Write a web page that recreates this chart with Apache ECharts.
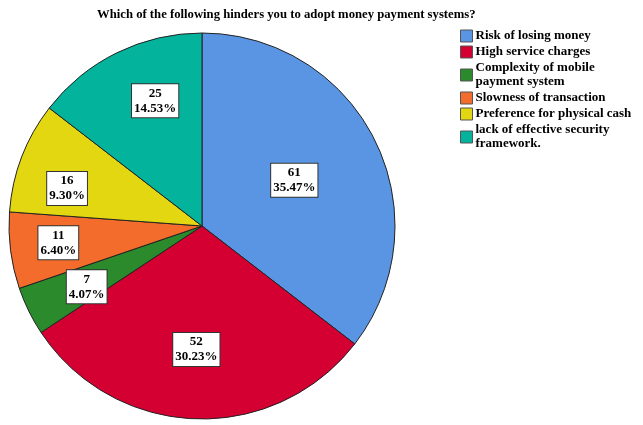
<!DOCTYPE html>
<html>
<head>
<meta charset="utf-8">
<script src="https://cdn.jsdelivr.net/npm/echarts@6/dist/echarts.min.js"></script>
<style>
  html, body { margin: 0; padding: 0; background: #fff; }
  #chart { width: 643px; height: 425px; }
</style>
</head>
<body>
<div id="chart"></div>
<script>
// Survey: obstacles to adopting money payment systems
const categories = [
  'Risk of losing money',
  'High service charges',
  'Complexity of mobile\npayment system',
  'Slowness of transaction',
  'Preference for physical cash',
  'lack of effective security\nframework.'
];
const counts = [61, 52, 7, 11, 16, 25];
const colors = ['#5A95E3', '#D40032', '#2B8A2B', '#F36C2C', '#E3D711', '#03B39C'];

// nudges (px) applied to each value box from its default in-slice spot
const labelNudge = [[3, -2], [-2, 24], [-26, 17], [-45, 4], [-42, -2], [-3, -36]];

const serif = '"Liberation Serif", "Times New Roman", serif';
const total = counts.reduce((a, b) => a + b, 0);

const data = categories.map((name, i) => ({
  name: name,
  value: counts[i],
  itemStyle: { color: colors[i] },
  label: { offset: labelNudge[i] }
}));

const chart = echarts.init(document.getElementById('chart'));
chart.setOption({
  animation: false,
  title: {
    text: 'Which of the following hinders you to adopt money payment systems?',
    left: 97,
    top: 8,
    padding: 0,
    textStyle: { fontFamily: serif, fontWeight: 'bold', fontSize: 12.7, color: '#000' }
  },
  legend: {
    orient: 'vertical',
    left: 460,
    top: 29,
    padding: 0,
    itemGap: 2,
    itemWidth: 12,
    itemHeight: 12,
    icon: 'rect',
    selectedMode: false,
    itemStyle: { borderColor: '#555', borderWidth: 1 },
    textStyle: { fontFamily: serif, fontWeight: 'bold', fontSize: 13, color: '#000', lineHeight: 14, padding: [0, 0, 0, -2] },
    data: categories
  },
  series: [{
    type: 'pie',
    center: [202, 226],
    radius: 193,
    startAngle: 90,
    clockwise: true,
    avoidLabelOverlap: false,
    itemStyle: { borderColor: '#222', borderWidth: 1 },
    labelLine: { show: false },
    emphasis: { disabled: true },
    label: {
      show: true,
      position: 'inside',
      fontFamily: serif,
      fontWeight: 'bold',
      fontSize: 13,
      lineHeight: 15,
      color: '#000',
      align: 'center',
      backgroundColor: '#fff',
      borderColor: '#333',
      borderWidth: 1,
      padding: [2, 2, 1, 2],
      formatter: p => p.value + '\n' + (p.value / total * 100).toFixed(2) + '%'
    },
    data: data
  }]
});
</script>
</body>
</html>
